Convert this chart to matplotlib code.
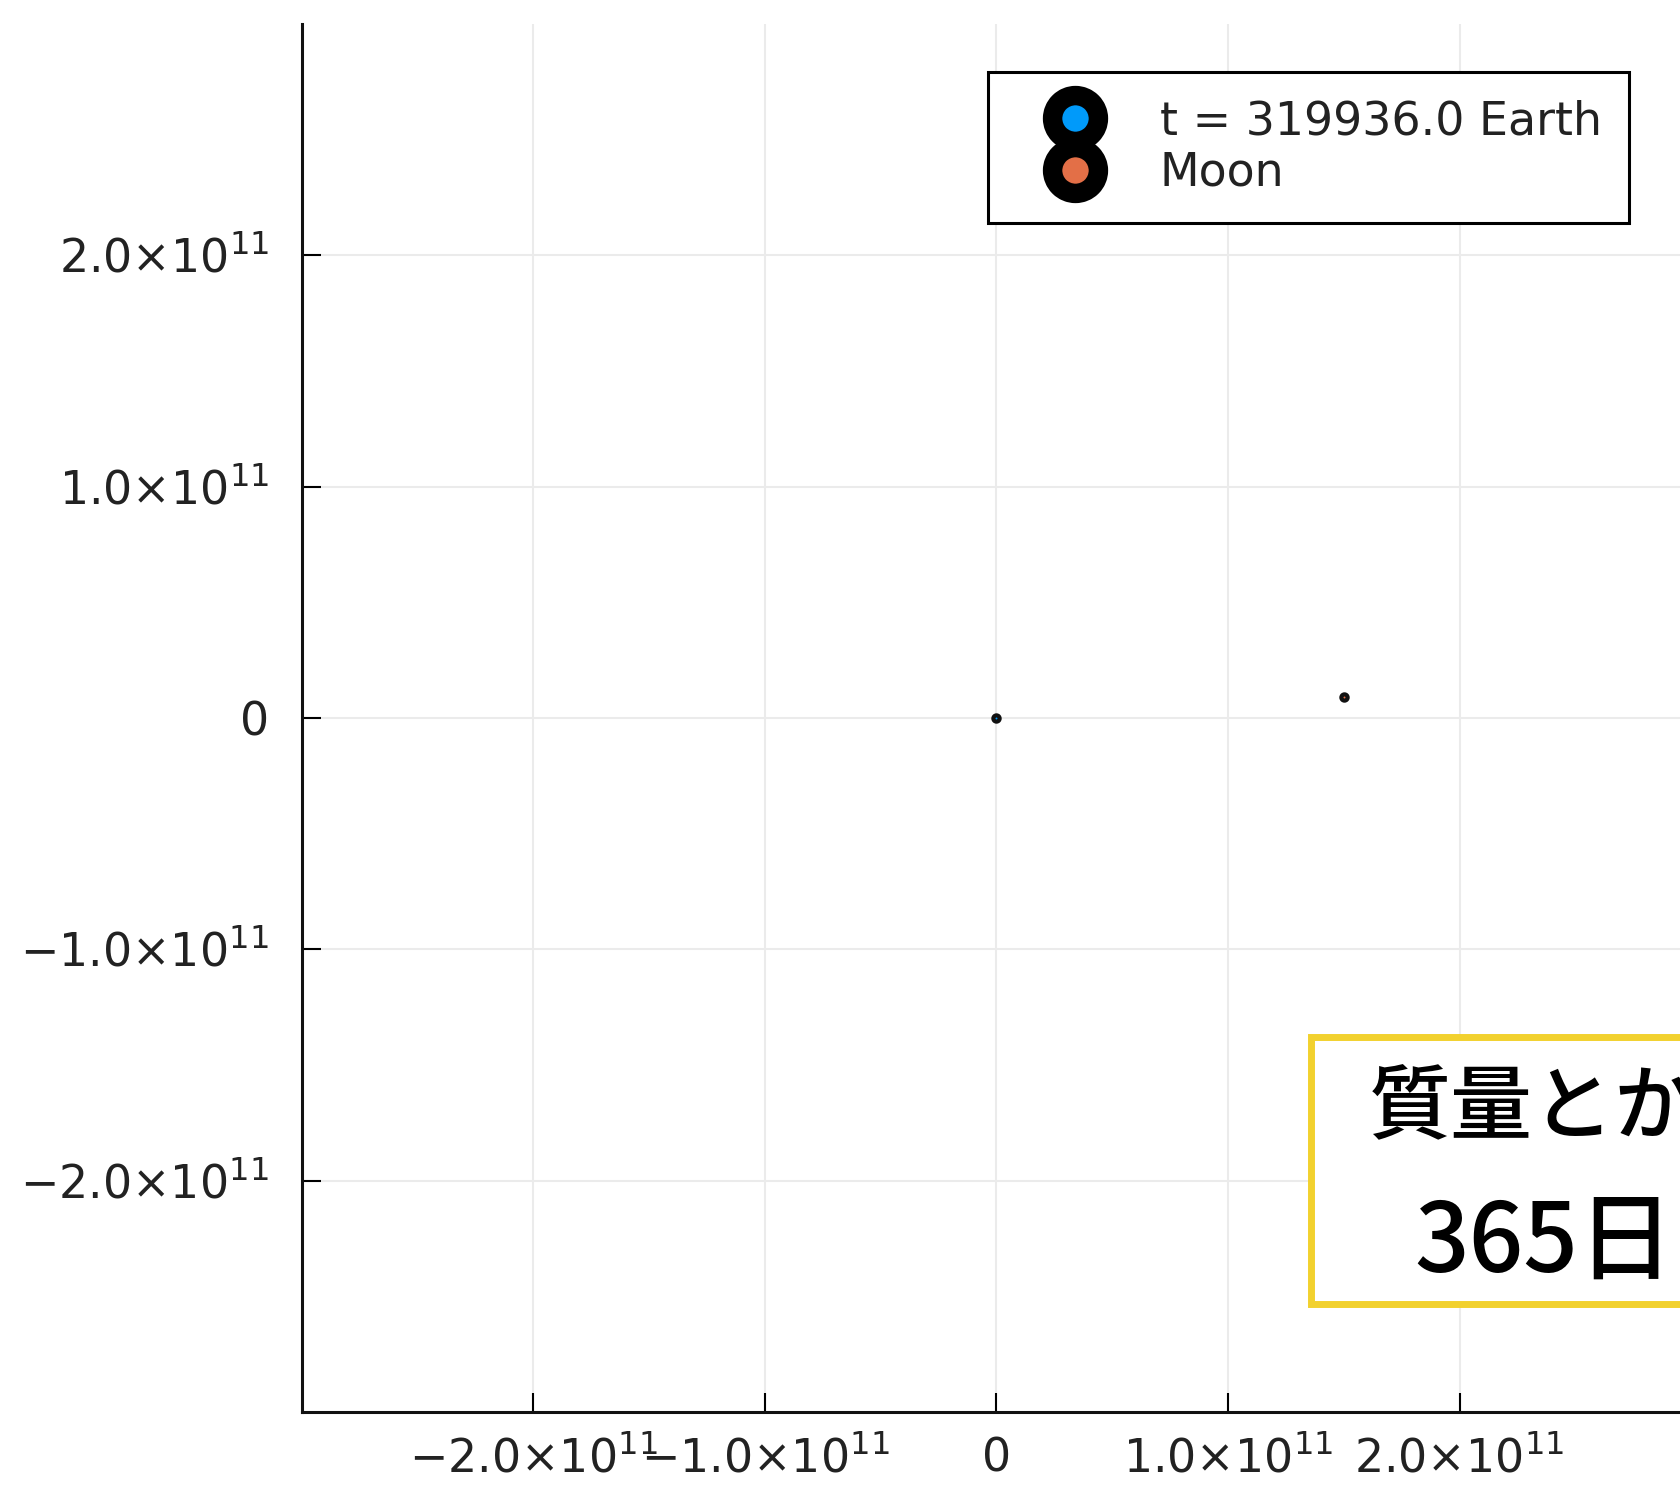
import matplotlib
matplotlib.use("Agg")
import matplotlib.pyplot as plt
from matplotlib.lines import Line2D
from matplotlib.patches import Rectangle

plt.rcParams['mathtext.fontset'] = 'dejavusans'
plt.rcParams['mathtext.default'] = 'regular'

# ---- data ----
bodies = ["Earth", "Moon"]
body_x = [0.0, 1.5e11]
body_y = [0.0, 9.2e9]
body_colors = ["#009AFA", "#E36F47"]
legend_labels = ["t = 319936.0 Earth", "Moon"]
tick_values = [-2e11, -1e11, 0, 1e11, 2e11]
tick_labels = [r"$-2.0{\times}10^{11}$", r"$-1.0{\times}10^{11}$", "0",
               r"$1.0{\times}10^{11}$", r"$2.0{\times}10^{11}$"]
axis_limits = (-3e11, 3e11)
note_lines = ["質量とか", "365日"]

W, H = 1680, 1493
fig = plt.figure(figsize=(W / 100, H / 100), dpi=100)
fig.patch.set_facecolor("white")

left, right, top, bottom = 302, 1691, 24, 1412
ax = fig.add_axes([left / W, 1 - bottom / H, (right - left) / W, (bottom - top) / H])
ax.set_xlim(*axis_limits)
ax.set_ylim(*axis_limits)

for xv, yv, c in zip(body_x, body_y, body_colors):
    ax.plot([xv], [yv], marker="o", ms=4.5, mfc=c, mec="#111111", mew=3.0,
            ls="none", zorder=3)

ax.set_xticks(tick_values)
ax.set_xticklabels(tick_labels)
ax.set_yticks(tick_values)
ax.set_yticklabels(tick_labels)
ax.tick_params(direction="in", length=14, width=1.5, colors="black",
               labelsize=33, labelcolor="#222222")
ax.tick_params(axis="x", pad=18)
ax.tick_params(axis="y", pad=24)
ax.grid(True, color="#ebebeb", lw=1.5)
ax.set_axisbelow(True)
for s in ["top", "right"]:
    ax.spines[s].set_visible(False)
for s in ["left", "bottom"]:
    ax.spines[s].set_linewidth(2.2)
    ax.spines[s].set_color("#111111")

handles = [Line2D([], [], marker="o", ls="none", ms=33, mfc=c, mec="black", mew=14)
           for c in body_colors]
leg = ax.legend(handles, legend_labels, loc="upper left",
                bbox_to_anchor=(988 / W, 1 - 72 / H), bbox_transform=fig.transFigure,
                borderaxespad=0, fontsize=33, frameon=True, fancybox=False,
                edgecolor="black", framealpha=1, borderpad=0.6,
                handlelength=2.6, handletextpad=0.55, labelspacing=0.14,
                labelcolor="#222222")
leg.get_frame().set_linewidth(2.2)

# yellow note box (extends beyond the right edge)
box = Rectangle((1311 / W, 1 - 1304 / H), 500 / W, (1304 - 1037) / H,
                transform=fig.transFigure, facecolor="white", edgecolor="#F2D12E",
                lw=5, zorder=10, clip_on=False)
fig.patches.append(box)
fig.text(1369 / W, 1 - 1110 / H, note_lines[0], fontsize=59, va="center", ha="left",
         family=["Noto Sans CJK JP", "DejaVu Sans"], weight="medium",
         color="black", zorder=11)
fig.text(1414 / W, 1 - 1244 / H, note_lines[1], fontsize=69, va="center", ha="left",
         family=["Noto Sans CJK JP", "DejaVu Sans"], weight="medium",
         color="black", zorder=11)

fig.savefig("out.png", dpi=100)
